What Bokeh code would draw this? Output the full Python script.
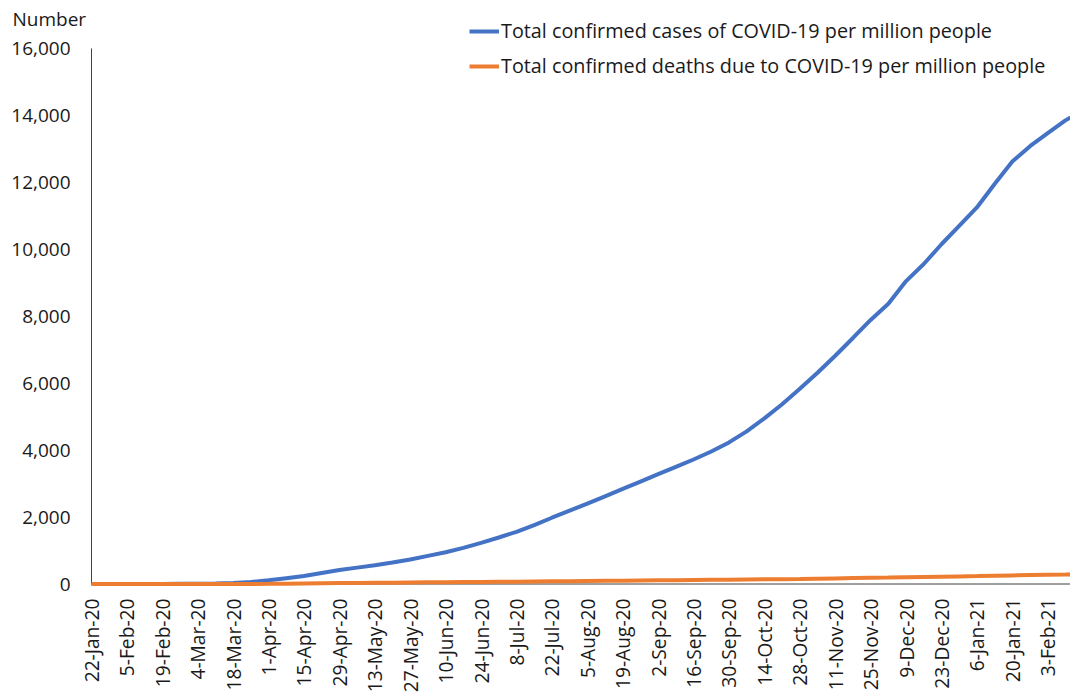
import math
import pandas as pd
from bokeh.plotting import figure
from bokeh.models import FixedTicker, Legend, LegendItem, Range1d
from bokeh.core.properties import value
from bokeh.embed import file_html
from bokeh.resources import INLINE

# ---- data ----
dates = [
    "2020-01-22", "2020-01-29", "2020-02-05", "2020-02-12", "2020-02-19", "2020-02-26",
    "2020-03-04", "2020-03-11", "2020-03-18", "2020-03-25", "2020-04-01", "2020-04-08",
    "2020-04-15", "2020-04-22", "2020-04-29", "2020-05-06", "2020-05-13", "2020-05-20",
    "2020-05-27", "2020-06-03", "2020-06-10", "2020-06-17", "2020-06-24", "2020-07-01",
    "2020-07-08", "2020-07-15", "2020-07-22", "2020-07-29", "2020-08-05", "2020-08-12",
    "2020-08-19", "2020-08-26", "2020-09-02", "2020-09-09", "2020-09-16", "2020-09-23",
    "2020-09-30", "2020-10-07", "2020-10-14", "2020-10-21", "2020-10-28", "2020-11-04",
    "2020-11-11", "2020-11-18", "2020-11-25", "2020-12-02", "2020-12-09", "2020-12-16",
    "2020-12-23", "2020-12-30", "2021-01-06", "2021-01-13", "2021-01-20", "2021-01-27",
    "2021-02-03", "2021-02-10", "2021-02-12",
]
cases_per_million = [
    0, 0, 0, 0, 0, 5,
    10, 15, 28, 58, 110, 175,
    240, 330, 420, 490, 560, 640,
    730, 840, 950, 1080, 1230, 1390,
    1560, 1760, 1980, 2190, 2400, 2620,
    2840, 3060, 3280, 3500, 3720, 3960,
    4230, 4560, 4950, 5370, 5830, 6310,
    6820, 7350, 7890, 8370, 9050, 9560,
    10150, 10700, 11250, 11950, 12620, 13080,
    13470, 13850, 13940,
]
deaths_per_million = [
    0, 0, 0, 0, 0, 0,
    0.4, 0.6, 1.1, 2.7, 6, 11,
    17, 23, 28, 33, 37, 41,
    45, 49, 53, 57, 61, 66,
    70, 75, 80, 85, 90, 95,
    100, 105, 110, 115, 120, 125,
    130, 135, 140, 146, 152, 160,
    168, 176, 184, 192, 201, 210,
    219, 228, 237, 247, 257, 266,
    274, 282, 285,
]
tick_labels = [
    "22-Jan-20", "5-Feb-20", "19-Feb-20", "4-Mar-20", "18-Mar-20", "1-Apr-20",
    "15-Apr-20", "29-Apr-20", "13-May-20", "27-May-20", "10-Jun-20", "24-Jun-20",
    "8-Jul-20", "22-Jul-20", "5-Aug-20", "19-Aug-20", "2-Sep-20", "16-Sep-20",
    "30-Sep-20", "14-Oct-20", "28-Oct-20", "11-Nov-20", "25-Nov-20", "9-Dec-20",
    "23-Dec-20", "6-Jan-21", "20-Jan-21", "3-Feb-21",
]
y_ticks = [0, 2000, 4000, 6000, 8000, 10000, 12000, 14000, 16000]
series_names = [
    "Total confirmed cases of COVID-19 per million people",
    "Total confirmed deaths due to COVID-19 per million people",
]
y_title = "Number"

start = pd.Timestamp(dates[0])
xs = [(pd.Timestamp(d) - start).days for d in dates]
tick_x = [(pd.to_datetime(t, format="%d-%b-%y") - start).days for t in tick_labels]

# ---- layout (pixels) ----
W, H = 1070, 695
AXIS_X_PX = 91          # x pixel of the vertical axis (first date)
RIGHT_PX = 1070         # x pixel of the last date
Y0_PX = 584.5           # y pixel of value 0
YTOP_PX = 48.0          # y pixel of top tick
FRAME_BOTTOM_PX = 592   # frame spans full width, from top of canvas down to here

ppd = (RIGHT_PX - AXIS_X_PX) / (xs[-1] - xs[0])      # px per day
ppu = (Y0_PX - YTOP_PX) / (y_ticks[-1] - y_ticks[0])  # px per unit

def data_x(px):
    return xs[0] + (px - AXIS_X_PX) / ppd

def data_y(py):
    return y_ticks[0] + (Y0_PX - py) / ppu

FONT = "Open Sans"
TXT = "#1a1a1a"
AXIS_COL = "#404040"

p = figure(width=W, height=H, output_backend="svg", toolbar_location=None,
           x_range=Range1d(data_x(0), xs[-1]),
           y_range=Range1d(data_y(FRAME_BOTTOM_PX), data_y(0)),
           min_border_left=0, min_border_right=0, min_border_top=0,
           min_border_bottom=H - FRAME_BOTTOM_PX)
p.background_fill_color = "white"
p.border_fill_color = "white"
p.outline_line_color = None
p.xgrid.visible = False
p.ygrid.visible = False
p.yaxis.visible = False

# axis lines (drawn as segments so they start at the first date / end at top tick)
p.segment(x0=[xs[0]], y0=[y_ticks[0]], x1=[xs[0]], y1=[y_ticks[-1]],
          line_color=AXIS_COL, line_width=1)
p.segment(x0=[xs[0]], y0=[y_ticks[0]], x1=[xs[-1]], y1=[y_ticks[0]],
          line_color=AXIS_COL, line_width=1)

# y tick labels
p.text(x=[data_x(70)] * len(y_ticks), y=y_ticks, text=[f"{v:,}" for v in y_ticks],
       text_align="right", text_baseline="middle",
       text_font=value(FONT), text_font_size=value("19px"), text_color=TXT)
# y title
p.text(x=[data_x(12)], y=[data_y(19)], text=[y_title],
       text_align="left", text_baseline="middle",
       text_font=value(FONT), text_font_size=value("19px"), text_color=TXT)

r_cases = p.line(xs, cases_per_million, line_width=4, line_color="#4472C4")
r_deaths = p.line(xs, deaths_per_million, line_width=4, line_color="#ED7D31")

ax = p.xaxis[0]
ax.axis_line_color = None
ax.major_tick_out = 0
ax.major_tick_in = 0
ax.minor_tick_out = 0
ax.minor_tick_in = 0
ax.major_label_text_font = FONT
ax.major_label_text_font_size = "19.2px"
ax.major_label_text_color = TXT
ax.ticker = FixedTicker(ticks=tick_x)
ax.major_label_overrides = {tx: lab for tx, lab in zip(tick_x, tick_labels)}
ax.major_label_orientation = math.pi / 2
ax.major_label_standoff = 7

legend = Legend(
    items=[LegendItem(label=series_names[0], renderers=[r_cases]),
           LegendItem(label=series_names[1], renderers=[r_deaths])],
    location=(470 - 1, FRAME_BOTTOM_PX - 80), border_line_color=None,
    background_fill_alpha=0,
    padding=0, margin=0, glyph_width=30, glyph_height=20, label_height=20,
    label_standoff=2, spacing=8,
    label_text_font=FONT, label_text_font_size="19.8px", label_text_color=TXT,
)
p.add_layout(legend)

open("out.html", "w").write(file_html(p, INLINE))
